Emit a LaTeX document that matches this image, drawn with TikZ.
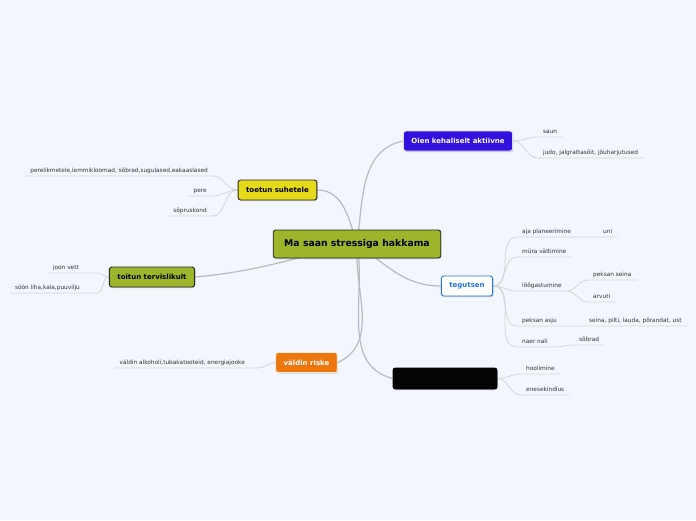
\documentclass[tikz,border=0pt]{standalone}
\usepackage{fontspec}
\setmainfont{DejaVu Sans}
\usetikzlibrary{shadows}
\pgfdeclarelayer{taustakiht}
\pgfdeclarelayer{harukiht}
\pgfsetlayers{taustakiht,harukiht,main}
\definecolor{taust}{RGB}{243,246,253}
\definecolor{oliiv}{RGB}{156,181,43}
\definecolor{lilla}{RGB}{52,16,222}
\definecolor{kollane}{RGB}{228,218,26}
\definecolor{oranz}{RGB}{238,118,15}
\definecolor{sinine}{RGB}{38,118,220}

\begin{document}
\begin{tikzpicture}[x=1pt, y=1pt,
		haru/.style={draw=black!27, line width=1.2pt},
		oks/.style={draw=black!17, line width=0.8pt},
		teema/.style={rounded corners=2.5pt, line width=0.9pt, inner xsep=8pt, minimum height=20pt,
			font=\bfseries\fontsize{7}{8}\selectfont,
			drop shadow={shadow xshift=0.8pt, shadow yshift=-1pt, opacity=0.35}},
		leht/.style={inner xsep=5pt, inner ysep=2.5pt, text height=4.3pt, text depth=1.2pt,
			font=\fontsize{5.8}{7}\selectfont, text=black!80}]
			%%%%% START %%%%%
			
			\begin{pgfonlayer}{taustakiht}
				\fill[taust] (0, 0) rectangle (696, -520);
			\end{pgfonlayer}
			\useasboundingbox (0, 0) rectangle (696, -520);
			
			% keskne teema
			\node[teema, draw=black!85, fill=oliiv, inner xsep=11pt, minimum height=28pt,
				font=\bfseries\fontsize{9.3}{11}\selectfont] (stress) at (357, -244) {Ma saan stressiga hakkama};
			
			% peaharud
			\node[teema, draw=white!85!lilla, fill=lilla, text=white] (aktiivne) at (458, -141) {Oien kehaliselt aktiivne};
			\node[teema, draw=black!85, fill=kollane] (suhted) at (277.5, -190) {toetun suhetele};
			\node[teema, draw=black!85, fill=oliiv] (toitun) at (152, -277) {toitun tervislikult};
			\node[teema, draw=white!85!oranz, fill=oranz, text=white] (riskid) at (306.5, -362.5) {väldin riske};
			\node[teema, draw=sinine, fill=white, text=sinine] (tegutsen) at (467, -286) {tegutsen};
			\node[teema, draw=black, fill=black!98, minimum width=104pt, minimum height=21pt] (must) at (445, -378.5) {};
			
			% lehed paremal
			\node[leht, anchor=south west] (saun) at (538, -137) {saun};
			\node[leht, anchor=south west] (judo) at (538, -158) {judo, jalgrattasõit, jõuharjutused};
			
			\node[leht, anchor=south west] (aja) at (517, -237) {aja planeerimine};
			\node[leht, anchor=south west] (uni) at (598, -237) {uni};
			\node[leht, anchor=south west] (myra) at (517, -257) {müra vältimine};
			\node[leht, anchor=south west] (loog) at (517, -291) {lõõgastumine};
			\node[leht, anchor=south west] (seina) at (588, -280) {peksan seina};
			\node[leht, anchor=south west] (arvuti) at (588, -302) {arvuti};
			\node[leht, anchor=south west] (asju) at (517, -326) {peksan asju};
			\node[leht, anchor=south west] (ust) at (584, -326) {seina, pilti, lauda, põrandat, ust};
			\node[leht, anchor=south west] (naer) at (517, -347) {naer nali};
			\node[leht, anchor=south west] (sobrad) at (574, -345) {sõbrad};
			
			\node[leht, anchor=south west] (hool) at (521, -374) {hoolimine};
			\node[leht, anchor=south west] (enese) at (521, -395) {enesekindlus};
			
			% lehed vasakul
			\node[leht, anchor=south east] (pere1) at (213, -176) {perelikmetele,lemmikloomad, sõbrad,sugulased,eakaaslased};
			\node[leht, anchor=south east] (pere) at (212, -196) {pere};
			\node[leht, anchor=south east] (sopr) at (212, -216) {sõpruskond};
			
			\node[leht, anchor=south east] (vesi) at (84, -273) {joon vett};
			\node[leht, anchor=south east] (liha) at (85, -293) {söön liha,kala,puuvilju};
			\coordinate (toitunsolm) at (97, -280);
			
			\node[leht, anchor=south east] (alko) at (250, -368) {väldin alkoholi,tubakatooteid, energiajooke};
			\coordinate (riskisolm) at (258, -360);
			
			\begin{pgfonlayer}{harukiht}
				% keskelt peaharudesse
				\draw[haru] (stress.center) to[out=82, in=192] (aktiivne.west);
				\draw[haru] (stress.center) to[out=108, in=0] (suhted.east);
				\draw[haru] (stress.center) to[out=192, in=5] (toitun.east);
				\draw[haru] (stress.center) to[out=-35, in=180] (tegutsen.west);
				\draw[haru] (stress.center) to[out=-94, in=25] (riskid.east);
				\draw[haru] (stress.center) to[out=-80, in=165] (must.west);
				
				% lehtede oksad
				\draw[oks] (aktiivne.east) to[out=0, in=180] (saun.south west) -- (saun.south east);
				\draw[oks] (aktiivne.east) to[out=0, in=180] (judo.south west) -- (judo.south east);
				
				\draw[oks] (tegutsen.east) to[out=0, in=180] (aja.south west) -- (aja.south east) -- (uni.south west) -- (uni.south east);
				\draw[oks] (tegutsen.east) to[out=0, in=180] (myra.south west) -- (myra.south east);
				\draw[oks] (tegutsen.east) to[out=0, in=180] (loog.south west) -- (loog.south east);
				\draw[oks] (loog.south east) to[out=0, in=180] (seina.south west) -- (seina.south east);
				\draw[oks] (loog.south east) to[out=0, in=180] (arvuti.south west) -- (arvuti.south east);
				\draw[oks] (tegutsen.east) to[out=0, in=180] (asju.south west) -- (asju.south east) -- (ust.south west) -- (ust.south east);
				\draw[oks] (tegutsen.east) to[out=0, in=180] (naer.south west) -- (naer.south east) to[out=0, in=180] (sobrad.south west) -- (sobrad.south east);
				
				\draw[oks] (must.east) to[out=0, in=180] (hool.south west) -- (hool.south east);
				\draw[oks] (must.east) to[out=0, in=180] (enese.south west) -- (enese.south east);
				
				\draw[oks] (suhted.west) to[out=180, in=0] (pere1.south east) -- (pere1.south west);
				\draw[oks] (suhted.west) to[out=180, in=0] (pere.south east) -- (pere.south west);
				\draw[oks] (suhted.west) to[out=180, in=0] (sopr.south east) -- (sopr.south west);
				
				\draw[oks] (toitun.west) to[out=180, in=0] (vesi.south -| toitunsolm) -- (vesi.south west);
				\draw[oks] (toitun.west) to[out=180, in=0] (liha.south -| toitunsolm) -- (liha.south west);
				
				\draw[oks] (riskid.west) to[out=180, in=0] (alko.south -| riskisolm) -- (alko.south west);
			\end{pgfonlayer}
			
			%%%%% END %%%%%
		\end{tikzpicture}
\end{document}
